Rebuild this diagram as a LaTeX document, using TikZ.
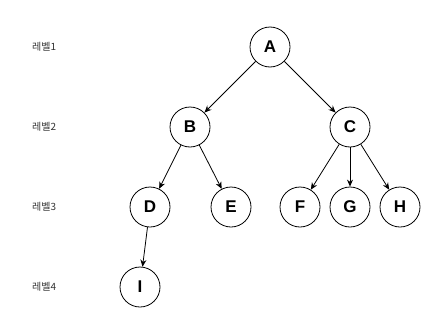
\documentclass[tikz,border=0pt]{standalone}
\usepackage{fontspec}
\setmainfont{Liberation Sans}
\newfontfamily\krfont{Noto Sans CJK KR}
\usetikzlibrary{arrows.meta}
\begin{document}
\begin{tikzpicture}[x=1pt,y=-1pt,
  tnode/.style={circle,draw,line width=0.8pt,minimum size=40pt,inner sep=0pt,font=\fontsize{17}{17}\selectfont\bfseries},
  edge/.style={draw,line width=0.8pt,-{Stealth[length=7pt,width=6pt]}},
  lvl/.style={anchor=west,inner sep=0pt,text=black!80,font=\krfont\fontsize{10}{10}\selectfont}]
\useasboundingbox (0,0) rectangle (441,332);
\node[tnode] (A) at (270,47) {A};
\node[tnode] (B) at (190,127) {B};
\node[tnode] (C) at (350,127) {C};
\node[tnode] (D) at (150,207) {D};
\node[tnode] (E) at (231,207) {E};
\node[tnode] (F) at (300,207) {F};
\node[tnode] (G) at (350,207) {G};
\node[tnode] (H) at (400,207) {H};
\node[tnode] (I) at (140,287) {I};
\node[lvl] (l1) at (32,47) {레벨1};
\node[lvl] (l2) at (32,127) {레벨2};
\node[lvl] (l3) at (32,207) {레벨3};
\node[lvl] (l4) at (32,287) {레벨4};
\path[edge] (A) -- (B);
\path[edge] (A) -- (C);
\path[edge] (B) -- (D);
\path[edge] (B) -- (E);
\path[edge] (C) -- (F);
\path[edge] (C) -- (G);
\path[edge] (C) -- (H);
\path[edge] (D) -- (I);
\end{tikzpicture}
\end{document}
